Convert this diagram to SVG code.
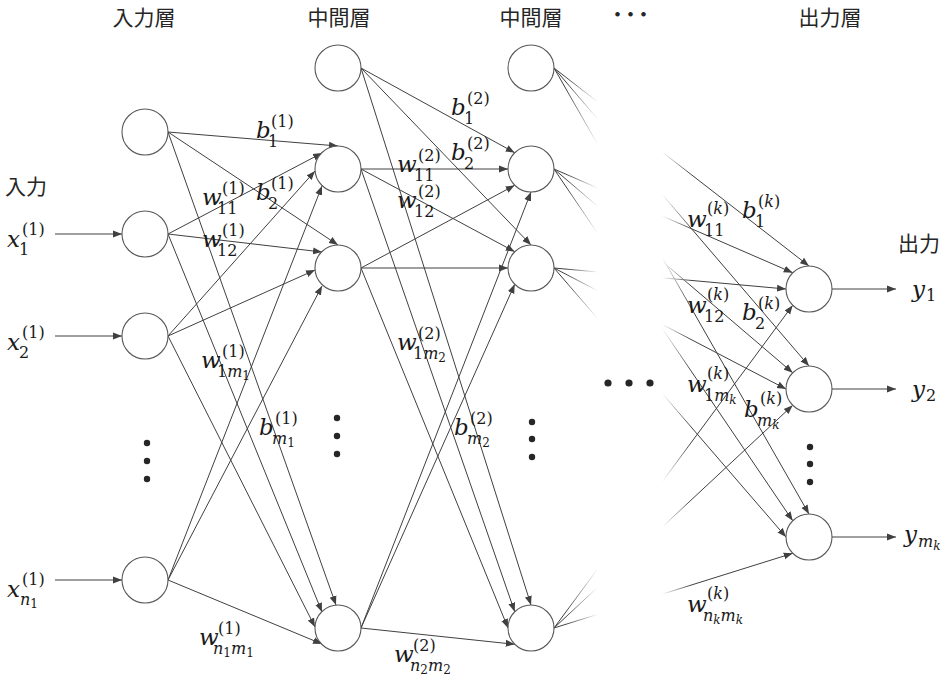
<svg xmlns="http://www.w3.org/2000/svg" width="946" height="682" viewBox="0 0 946 682">
<style>
.node{fill:#fff;stroke:#595959;stroke-width:1.1}
.c line{stroke:#404040;stroke-width:1;marker-end:url(#ah)}
.h{font-family:"Noto Sans CJK JP",sans-serif;font-size:21px;fill:#262626}
.L{font-family:"DejaVu Serif",serif;fill:#1a1a1a}
.i{font-style:italic;font-size:23px}
.s{font-style:normal;font-size:16px}
.si{font-style:italic}
.ss{font-size:12px}
.dot{fill:#262626}
</style>
<defs>
<marker id="ah" markerUnits="userSpaceOnUse" markerWidth="10" markerHeight="8" refX="9" refY="4" orient="auto" viewBox="0 0 10 8"><path d="M0,0.5 L9,4 L0,7.5 z" fill="#404040"/></marker>
<linearGradient id="fadeg" gradientUnits="userSpaceOnUse" x1="540" y1="0" x2="720" y2="0">
<stop offset="0.139" stop-color="#fff"/><stop offset="0.322" stop-color="#000"/><stop offset="0.678" stop-color="#000"/><stop offset="0.844" stop-color="#fff"/>
</linearGradient>
<mask id="fade" maskUnits="userSpaceOnUse" x="0" y="0" width="946" height="682"><rect x="0" y="0" width="946" height="682" fill="url(#fadeg)"/></mask>
</defs>
<rect width="946" height="682" fill="#fff"/>

<g id="headers">
<text class="h" x="144" y="25" text-anchor="middle">入力層</text>
<text class="h" x="339" y="25" text-anchor="middle">中間層</text>
<text class="h" x="531" y="25" text-anchor="middle">中間層</text>
<text class="h" x="607" y="22" letter-spacing="-8">・・・</text>
<text class="h" x="830" y="25" text-anchor="middle">出力層</text>
<text class="h" x="5" y="194">入力</text>
<text class="h" x="898" y="251">出力</text>
</g>

<g id="connectors" class="c">
<line x1="55" y1="234" x2="122" y2="234"/>
<line x1="55" y1="336" x2="122" y2="336"/>
<line x1="55" y1="580" x2="122" y2="580"/>
<line x1="168" y1="132" x2="338" y2="146"/>
<line x1="168" y1="234" x2="322" y2="153"/>
<line x1="168" y1="336" x2="315" y2="171"/>
<line x1="168" y1="580" x2="322" y2="186"/>
<line x1="168" y1="132" x2="338" y2="245"/>
<line x1="168" y1="234" x2="322" y2="252"/>
<line x1="168" y1="336" x2="315" y2="270"/>
<line x1="168" y1="580" x2="322" y2="286"/>
<line x1="168" y1="132" x2="336" y2="605"/>
<line x1="168" y1="234" x2="322" y2="612"/>
<line x1="168" y1="336" x2="315" y2="627"/>
<line x1="168" y1="580" x2="322" y2="644"/>
<line x1="361" y1="68" x2="514.7" y2="152.7"/>
<line x1="361" y1="169" x2="508" y2="169"/>
<line x1="361" y1="268" x2="514.7" y2="185.3"/>
<line x1="361" y1="628" x2="531" y2="192"/>
<line x1="361" y1="68" x2="531" y2="245"/>
<line x1="361" y1="169" x2="514.7" y2="251.7"/>
<line x1="361" y1="268" x2="508" y2="268"/>
<line x1="361" y1="628" x2="514.7" y2="284.3"/>
<line x1="361" y1="68" x2="531" y2="605"/>
<line x1="361" y1="169" x2="514.7" y2="611.7"/>
<line x1="361" y1="268" x2="508" y2="628"/>
<line x1="361" y1="628" x2="514.7" y2="644.3"/>
<g mask="url(#fade)">
<line x1="554" y1="68" x2="809" y2="266"/>
<line x1="554" y1="169" x2="792.7" y2="272.7"/>
<line x1="554" y1="268" x2="786" y2="289"/>
<line x1="554" y1="628" x2="792.7" y2="305.3"/>
<line x1="554" y1="68" x2="809" y2="366"/>
<line x1="554" y1="169" x2="792.7" y2="372.7"/>
<line x1="554" y1="268" x2="786" y2="389"/>
<line x1="554" y1="628" x2="792.7" y2="405.3"/>
<line x1="554" y1="68" x2="809" y2="514"/>
<line x1="554" y1="169" x2="792.7" y2="520.7"/>
<line x1="554" y1="268" x2="786" y2="537"/>
<line x1="554" y1="628" x2="792.7" y2="553.3"/>
</g>
<line x1="832" y1="289" x2="896" y2="289"/>
<line x1="832" y1="389" x2="896" y2="389"/>
<line x1="832" y1="537" x2="896" y2="537"/>
</g>

<g id="in-bias"><circle class="node" cx="145" cy="132" r="23"/></g>
<g id="in-1"><circle class="node" cx="145" cy="234" r="23"/></g>
<g id="in-2"><circle class="node" cx="145" cy="336" r="23"/></g>
<g id="in-n"><circle class="node" cx="145" cy="580" r="23"/></g>
<g id="h1-bias"><circle class="node" cx="338" cy="68" r="23"/></g>
<g id="h1-1"><circle class="node" cx="338" cy="169" r="23"/></g>
<g id="h1-2"><circle class="node" cx="338" cy="268" r="23"/></g>
<g id="h1-m"><circle class="node" cx="338" cy="628" r="23"/></g>
<g id="h2-bias"><circle class="node" cx="531" cy="68" r="23"/></g>
<g id="h2-1"><circle class="node" cx="531" cy="169" r="23"/></g>
<g id="h2-2"><circle class="node" cx="531" cy="268" r="23"/></g>
<g id="h2-m"><circle class="node" cx="531" cy="628" r="23"/></g>
<g id="out-1"><circle class="node" cx="809" cy="289" r="23"/></g>
<g id="out-2"><circle class="node" cx="809" cy="389" r="23"/></g>
<g id="out-m"><circle class="node" cx="809" cy="537" r="23"/></g>

<g id="ellipses">
<circle class="dot" cx="147" cy="443" r="3.2"/><circle class="dot" cx="147" cy="461" r="3.2"/><circle class="dot" cx="147" cy="479" r="3.2"/>
<circle class="dot" cx="337" cy="418" r="3.2"/><circle class="dot" cx="337" cy="436" r="3.2"/><circle class="dot" cx="337" cy="454" r="3.2"/>
<circle class="dot" cx="532" cy="422" r="3.2"/><circle class="dot" cx="532" cy="439" r="3.2"/><circle class="dot" cx="532" cy="457" r="3.2"/>
<circle class="dot" cx="810" cy="447" r="3.2"/><circle class="dot" cx="810" cy="464" r="3.2"/><circle class="dot" cx="810" cy="482" r="3.2"/>
<circle class="dot" cx="608" cy="383" r="3.6"/><circle class="dot" cx="629" cy="383" r="3.6"/><circle class="dot" cx="650" cy="383" r="3.6"/>
</g>

<g id="labels" class="L">
<text><tspan class="i" x="7" y="247">x</tspan><tspan class="s" x="22" y="235">(1)</tspan><tspan class="s" x="19" y="255">1</tspan></text>
<text><tspan class="i" x="7" y="350">x</tspan><tspan class="s" x="22" y="338">(1)</tspan><tspan class="s" x="19" y="358">2</tspan></text>
<text><tspan class="i" x="7" y="597">x</tspan><tspan class="s" x="22" y="585">(1)</tspan><tspan class="s si" x="20" y="605">n<tspan class="ss" font-style="normal" dy="3">1</tspan></tspan></text>

<text><tspan class="i" x="256" y="138">b</tspan><tspan class="s" x="271" y="127">(1)</tspan><tspan class="s" x="268" y="147">1</tspan></text>
<text><tspan class="i" x="256" y="200">b</tspan><tspan class="s" x="271" y="189">(1)</tspan><tspan class="s" x="268" y="209">2</tspan></text>
<text><tspan class="i" x="202" y="205">w</tspan><tspan class="s" x="222" y="194">(1)</tspan><tspan class="s" x="217" y="214">11</tspan></text>
<text><tspan class="i" x="202" y="247">w</tspan><tspan class="s" x="222" y="236">(1)</tspan><tspan class="s" x="217" y="256">12</tspan></text>
<text><tspan class="i" x="201" y="368">w</tspan><tspan class="s" x="222" y="357">(1)</tspan><tspan class="s" x="217" y="377">1<tspan class="si">m</tspan><tspan class="ss" dy="3">1</tspan></tspan></text>
<text><tspan class="i" x="259" y="435">b</tspan><tspan class="s" x="275" y="424">(1)</tspan><tspan class="s si" x="272" y="444">m<tspan class="ss" font-style="normal" dy="3">1</tspan></tspan></text>
<text><tspan class="i" x="199" y="645">w</tspan><tspan class="s" x="218" y="634">(1)</tspan><tspan class="s si" x="213" y="654">n<tspan class="ss" font-style="normal" dy="3">1</tspan><tspan dy="-3">m</tspan><tspan class="ss" font-style="normal" dy="3">1</tspan></tspan></text>

<text><tspan class="i" x="451" y="115">b</tspan><tspan class="s" x="467" y="104">(2)</tspan><tspan class="s" x="464" y="124">1</tspan></text>
<text><tspan class="i" x="451" y="160">b</tspan><tspan class="s" x="467" y="149">(2)</tspan><tspan class="s" x="464" y="169">2</tspan></text>
<text><tspan class="i" x="397" y="172">w</tspan><tspan class="s" x="418" y="161">(2)</tspan><tspan class="s" x="414" y="181">11</tspan></text>
<text><tspan class="i" x="397" y="208">w</tspan><tspan class="s" x="418" y="197">(2)</tspan><tspan class="s" x="414" y="217">12</tspan></text>
<text><tspan class="i" x="397" y="350">w</tspan><tspan class="s" x="418" y="339">(2)</tspan><tspan class="s" x="413" y="359">1<tspan class="si">m</tspan><tspan class="ss" dy="3">2</tspan></tspan></text>
<text><tspan class="i" x="454" y="435">b</tspan><tspan class="s" x="470" y="424">(2)</tspan><tspan class="s si" x="467" y="444">m<tspan class="ss" font-style="normal" dy="3">2</tspan></tspan></text>
<text><tspan class="i" x="394" y="662">w</tspan><tspan class="s" x="413" y="651">(2)</tspan><tspan class="s si" x="410" y="671">n<tspan class="ss" font-style="normal" dy="3">2</tspan><tspan dy="-3">m</tspan><tspan class="ss" font-style="normal" dy="3">2</tspan></tspan></text>

<text><tspan class="i" x="742" y="218">b</tspan><tspan class="s" x="758" y="207">(<tspan class="si">k</tspan>)</tspan><tspan class="s" x="755" y="227">1</tspan></text>
<text><tspan class="i" x="687" y="227">w</tspan><tspan class="s" x="707" y="214">(<tspan class="si">k</tspan>)</tspan><tspan class="s" x="704" y="236">11</tspan></text>
<text><tspan class="i" x="687" y="313">w</tspan><tspan class="s" x="707" y="300">(<tspan class="si">k</tspan>)</tspan><tspan class="s" x="704" y="322">12</tspan></text>
<text><tspan class="i" x="742" y="320">b</tspan><tspan class="s" x="758" y="309">(<tspan class="si">k</tspan>)</tspan><tspan class="s" x="755" y="329">2</tspan></text>
<text><tspan class="i" x="687" y="392">w</tspan><tspan class="s" x="707" y="379">(<tspan class="si">k</tspan>)</tspan><tspan class="s" x="704" y="401">1<tspan class="si">m</tspan><tspan class="ss si" dy="3">k</tspan></tspan></text>
<text><tspan class="i" x="744" y="417">b</tspan><tspan class="s" x="760" y="404">(<tspan class="si">k</tspan>)</tspan><tspan class="s si" x="757" y="426">m<tspan class="ss" dy="3">k</tspan></tspan></text>
<text><tspan class="i" x="687" y="612">w</tspan><tspan class="s" x="707" y="599">(<tspan class="si">k</tspan>)</tspan><tspan class="s si" x="703" y="621">n<tspan class="ss" dy="3">k</tspan><tspan dy="-3">m</tspan><tspan class="ss" dy="3">k</tspan></tspan></text>

<text><tspan class="i" x="912" y="297">y</tspan><tspan class="s" x="926" y="301">1</tspan></text>
<text><tspan class="i" x="912" y="397">y</tspan><tspan class="s" x="926" y="401">2</tspan></text>
<text><tspan class="i" x="904" y="542">y</tspan><tspan class="s si" x="918" y="547">m<tspan class="ss" dy="3">k</tspan></tspan></text>
</g>
</svg>
